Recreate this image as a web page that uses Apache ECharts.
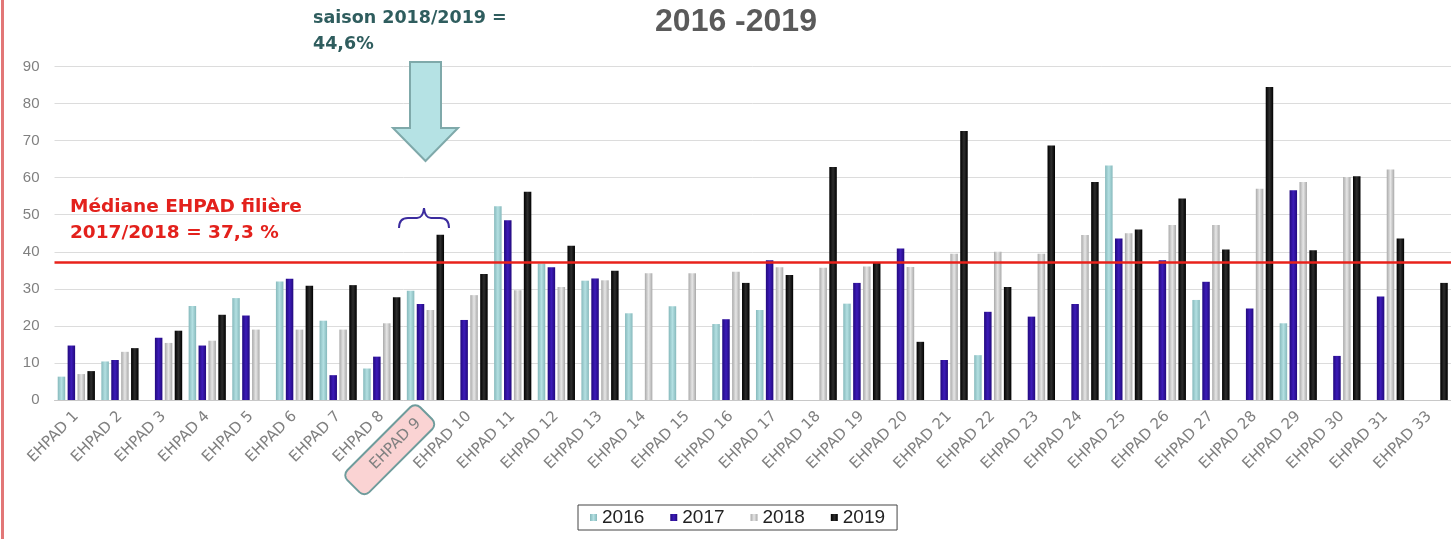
<!DOCTYPE html>
<html><head><meta charset="utf-8">
<script src="https://cdn.jsdelivr.net/npm/echarts@6/dist/echarts.min.js"></script>
<style>html,body{margin:0;padding:0;background:#fff}#c{width:1451px;height:539px}</style>
</head><body><div id="c"></div>
<script>
const categories = ['EHPAD 1','EHPAD 2','EHPAD 3','EHPAD 4','EHPAD 5','EHPAD 6','EHPAD 7','EHPAD 8','EHPAD 9','EHPAD 10','EHPAD 11','EHPAD 12','EHPAD 13','EHPAD 14','EHPAD 15','EHPAD 16','EHPAD 17','EHPAD 18','EHPAD 19','EHPAD 20','EHPAD 21','EHPAD 22','EHPAD 23','EHPAD 24','EHPAD 25','EHPAD 26','EHPAD 27','EHPAD 28','EHPAD 29','EHPAD 30','EHPAD 31','EHPAD 33'];
const seriesNames = ['2016','2017','2018','2019'];
const v2016 = [6.3,10.4,null,25.4,27.5,32,21.4,8.5,29.5,null,52.3,36.8,32.2,23.4,25.3,20.5,24.3,null,26,null,null,12.1,null,null,63.3,null,27,null,20.7,null,null,null];
const v2017 = [14.7,10.8,16.8,14.7,22.8,32.7,6.7,11.7,25.9,21.6,48.5,35.8,32.8,null,null,21.8,37.7,null,31.6,40.9,10.8,23.8,22.5,25.9,43.6,37.7,31.9,24.7,56.6,11.9,27.9,null];
const v2018 = [7,13,15.4,16,19,19,19,20.7,24.3,28.3,29.6,30.5,32.3,34.2,34.2,34.6,35.8,35.7,36,35.9,39.5,40,39.5,44.5,45,47.2,47.2,57,58.8,60.2,62.2,null];
const v2019 = [7.8,14,18.7,23,null,30.8,31,27.7,44.6,34,56.2,41.6,34.9,null,null,31.6,33.7,62.9,37,15.7,72.6,30.5,68.7,58.8,46,54.4,40.6,84.5,40.4,60.4,43.6,31.6];
const yTicks = [0,10,20,30,40,50,60,70,80,90];
const medianValue = 37.3;
const highlighted = 'EHPAD 9';

function grad(edge, mid) {
  return new echarts.graphic.LinearGradient(0, 0, 1, 0, [
    {offset: 0, color: edge}, {offset: 0.5, color: mid}, {offset: 1, color: edge}
  ]);
}
const colors = [grad('#86b9bc', '#b4e0e2'), grad('#22097e', '#3d1cb8'), grad('#a9a9a9', '#e6e6e6'), grad('#000000', '#2e2e2e')];
const values = [v2016, v2017, v2018, v2019];

const chart = echarts.init(document.getElementById('c'), null, {renderer: 'canvas'});
const series = seriesNames.map((n, i) => ({
  name: n, type: 'bar', data: values[i], barWidth: 7.5, barGap: '32%',
  itemStyle: {color: colors[i]}
}));
series[3].markLine = {
  silent: true, symbol: ['none', 'none'], z: 10,
  label: {show: false},
  lineStyle: {color: '#e8221b', width: 2.5, type: 'solid'},
  data: [{yAxis: medianValue}]
};

const braceStyle = {stroke: '#3b2b9e', lineWidth: 2, fill: null};
chart.setOption({
  animation: false,
  backgroundColor: '#ffffff',
  textStyle: {fontFamily: '"Liberation Sans", Arial, sans-serif'},
  grid: {left: 54.5, top: 66.5, width: 1398, height: 333.5, containLabel: false},
  legend: {
    data: seriesNames, left: 578, top: 505, orient: 'horizontal',
    icon: 'rect', itemWidth: 7, itemHeight: 7, itemGap: 26,
    padding: [3, 12], borderColor: '#444', borderWidth: 1,
    textStyle: {fontSize: 19, color: '#222', fontFamily: '"Liberation Sans", Arial, sans-serif'}
  },
  xAxis: {
    type: 'category', data: categories,
    axisLine: {lineStyle: {color: '#c8c8c8'}},
    axisTick: {show: false},
    axisLabel: {
      rotate: 45, interval: 0, margin: 14, color: '#808080', fontSize: 15,
      fontFamily: '"DejaVu Sans", sans-serif',
      formatter: v => v === highlighted ? '{hl|' + v + '}' : v,
      rich: {hl: {backgroundColor: '#fad3d3', borderColor: '#6f9c9c', borderWidth: 2, borderRadius: 6,
        padding: [7, 10, 7, 26], color: '#808080', fontSize: 15, fontFamily: '"DejaVu Sans", sans-serif'}}
    }
  },
  yAxis: {
    type: 'value', min: 0, max: 90, interval: 10,
    axisLine: {show: false}, axisTick: {show: false},
    axisLabel: {color: '#808080', fontSize: 15, margin: 15, formatter: v => yTicks.includes(v) ? String(v) : ''},
    splitLine: {lineStyle: {color: '#dcdcdc', width: 1}}
  },
  series: series,
  graphic: [
    {type: 'rect', shape: {x: 1, y: 0, width: 3, height: 539}, style: {fill: '#e27777'}, silent: true},
    {type: 'text', x: 736, y: 22, style: {text: '2016 -2019', font: 'bold 32px "Liberation Sans", Arial, sans-serif', fill: '#5a5a5a', align: 'center', verticalAlign: 'middle'}},
    {type: 'text', x: 313, y: 18, style: {text: 'saison 2018/2019 =', font: 'bold 17.5px "DejaVu Sans", sans-serif', fill: '#2f5d5e', align: 'left', verticalAlign: 'middle'}},
    {type: 'text', x: 313, y: 44, style: {text: '44,6%', font: 'bold 17.5px "DejaVu Sans", sans-serif', fill: '#2f5d5e', align: 'left', verticalAlign: 'middle'}},
    {type: 'polygon', shape: {points: [[410, 62], [441, 62], [441, 128], [458, 128], [425.5, 161], [393, 128], [410, 128]]},
      style: {fill: '#b5e2e4', stroke: '#7fa9aa', lineWidth: 2}, z: 20},
    {type: 'bezierCurve', shape: {x1: 399, y1: 228, cpx1: 399, cpy1: 218, x2: 408, y2: 218}, style: braceStyle, z: 20},
    {type: 'line', shape: {x1: 408, y1: 218, x2: 417, y2: 218}, style: braceStyle, z: 20},
    {type: 'bezierCurve', shape: {x1: 417, y1: 218, cpx1: 423, cpy1: 218, x2: 424, y2: 208}, style: braceStyle, z: 20},
    {type: 'bezierCurve', shape: {x1: 424, y1: 208, cpx1: 425, cpy1: 218, x2: 431, y2: 218}, style: braceStyle, z: 20},
    {type: 'line', shape: {x1: 431, y1: 218, x2: 440, y2: 218}, style: braceStyle, z: 20},
    {type: 'bezierCurve', shape: {x1: 440, y1: 218, cpx1: 449, cpy1: 218, x2: 449, y2: 228}, style: braceStyle, z: 20},
    {type: 'text', x: 70, y: 207, style: {text: 'Médiane EHPAD filière', font: 'bold 18.5px "DejaVu Sans", sans-serif', fill: '#e3211c', align: 'left', verticalAlign: 'middle'}, z: 20},
    {type: 'text', x: 70, y: 233, style: {text: '2017/2018 = 37,3 %', font: 'bold 18.5px "DejaVu Sans", sans-serif', fill: '#e3211c', align: 'left', verticalAlign: 'middle'}, z: 20}
  ]
});
</script></body></html>
